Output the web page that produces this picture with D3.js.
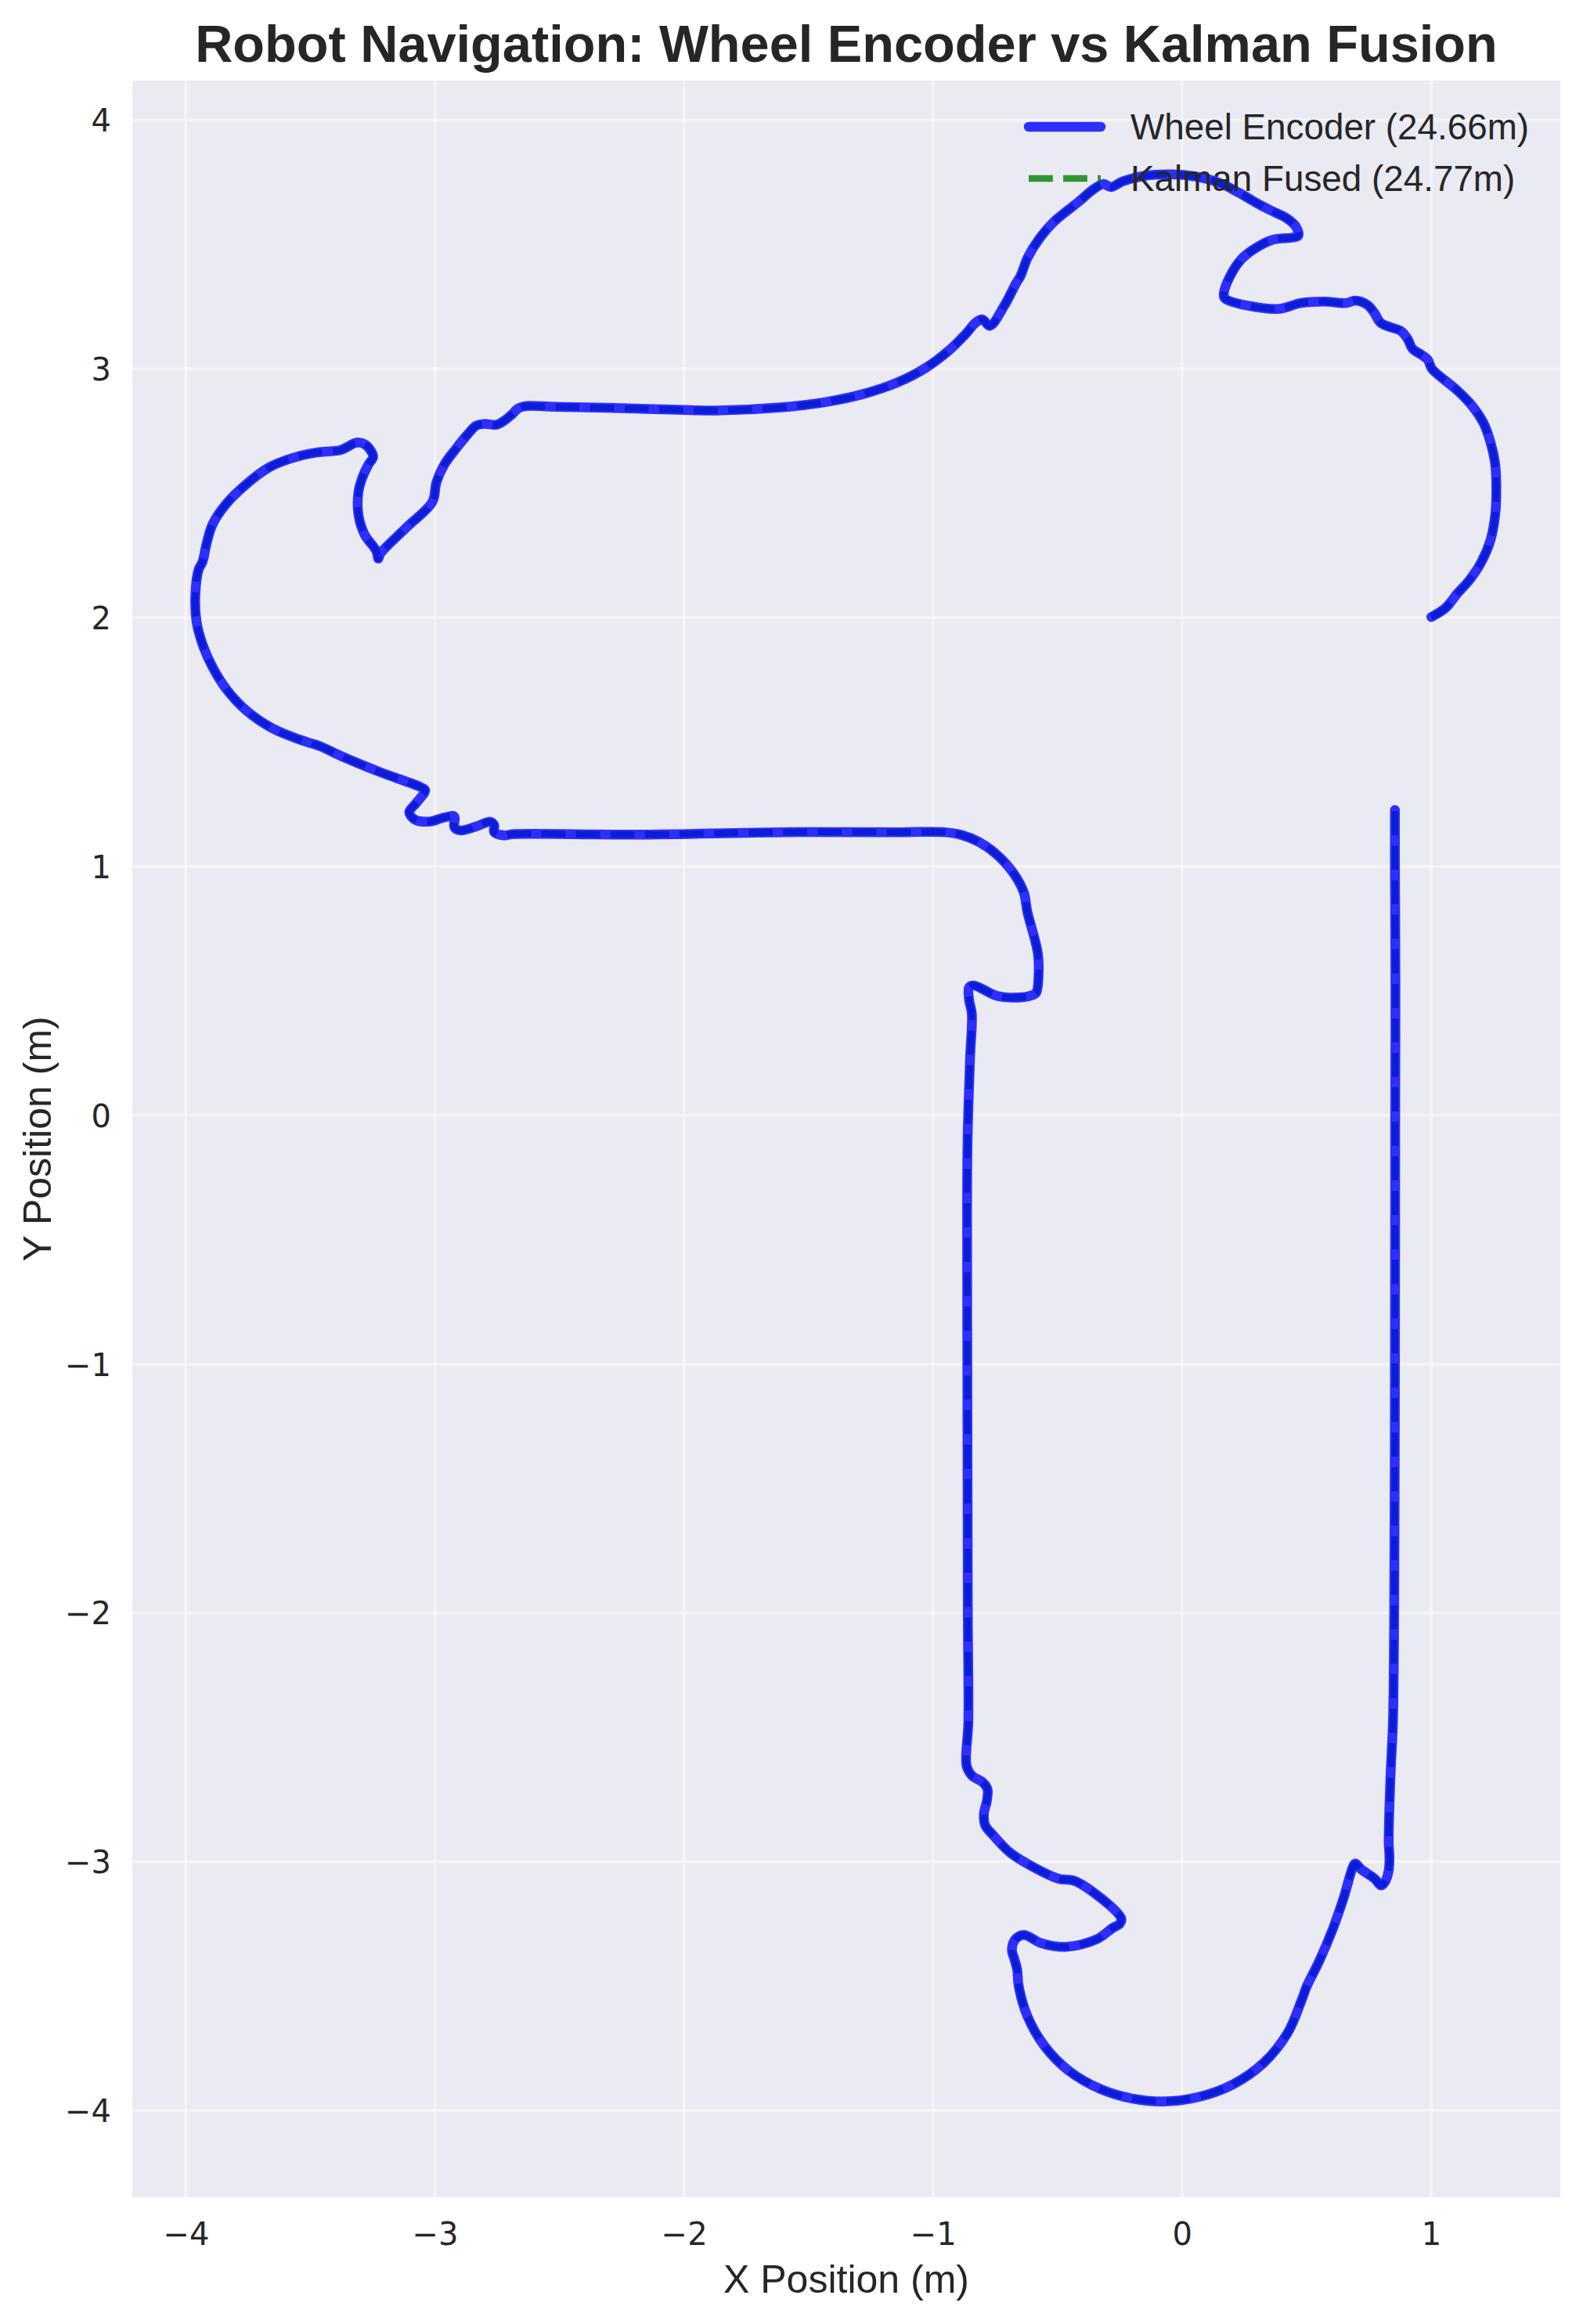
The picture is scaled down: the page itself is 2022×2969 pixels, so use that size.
<!DOCTYPE html>
<html><head><meta charset="utf-8">
<script src="https://cdn.jsdelivr.net/npm/d3@7"></script>
<style>html,body{margin:0;padding:0;background:#fff;} svg{display:block;}</style>
</head><body>
<svg id="chart" width="2022" height="2969"></svg>
<script>
// ---------------- data ----------------
const chartTitle = "Robot Navigation: Wheel Encoder vs Kalman Fusion";
const xLabel = "X Position (m)";
const yLabel = "Y Position (m)";
const xTicks = [-4, -3, -2, -1, 0, 1];
const yTicks = [-4, -3, -2, -1, 0, 1, 2, 3, 4];
const seriesNames = ["Wheel Encoder (24.66m)", "Kalman Fused (24.77m)"];
const xDomain = [-4.215, 1.519];
const yDomain = [-4.349, 4.160];

// Wheel encoder trajectory (x, y in metres)
const encoderX = [1.001,1.058,1.106,1.153,1.201,1.239,1.258,1.262,1.258,1.239,1.211,1.163,1.106,1.020,1.001,0.988,0.963,0.925,0.906,0.877,0.839,0.797,0.772,0.744,0.696,0.658,0.572,0.477,0.381,0.172,0.168,0.191,0.238,0.296,0.362,0.448,0.467,0.458,0.420,0.353,0.296,0.229,0.153,0.057,-0.038,-0.153,-0.238,-0.286,-0.315,-0.353,-0.419,-0.515,-0.572,-0.620,-0.648,-0.667,-0.715,-0.772,-0.801,-0.829,-0.868,-0.934,-1.030,-1.144,-1.277,-1.430,-1.602,
-1.872,-2.192,-2.513,-2.642,-2.666,-2.690,-2.722,-2.754,-2.802,-2.834,-2.866,-2.914,-2.962,-2.994,-3.010,-3.115,-3.219,-3.227,-3.235,-3.283,-3.307,-3.307,-3.291,-3.267,-3.248,-3.259,-3.283,-3.315,-3.355,-3.379,-3.476,-3.572,-3.668,-3.764,-3.836,-3.893,-3.917,-3.933,-3.949,-3.962,-3.957,-3.933,-3.893,-3.836,-3.756,-3.652,-3.540,-3.500,-3.460,-3.363,-3.219,-3.059,-3.039,-3.075,-3.103,-3.083,-3.026,-2.962,-2.922,-2.922,-2.898,-2.834,-2.778,-2.762,-2.762,-2.722,-2.690,-2.192,-1.602,
-1.123,-0.955,-0.886,-0.816,-0.746,-0.676,-0.635,-0.621,-0.579,-0.576,-0.586,-0.607,-0.676,-0.746,-0.837,-0.855,-0.855,-0.844,-0.851,-0.861,-0.863,-0.862,-0.860,-0.858,
-0.865,-0.844,-0.799,-0.781,-0.784,-0.795,-0.791,-0.760,-0.690,-0.593,-0.495,-0.425,-0.244,-0.251,-0.279,-0.342,-0.467,-0.565,-0.635,-0.669,-0.683,-0.674,-0.662,-0.656,-0.621,-0.551,-0.453,-0.328,-0.202,-0.077,0.063,0.202,0.328,0.425,0.481,0.502,0.551,0.607,0.649,0.690,0.697,0.718,0.774,0.799,0.816,0.830,0.833,0.830,0.837,0.847,
0.852,0.855,0.856,0.857,0.855,0.855];
const encoderY = [2.003,2.039,2.098,2.150,2.222,2.313,2.417,2.508,2.613,2.704,2.782,2.854,2.913,2.984,3.004,3.036,3.056,3.082,3.121,3.154,3.167,3.186,3.226,3.258,3.275,3.265,3.271,3.265,3.241,3.284,3.304,3.369,3.441,3.486,3.519,3.529,3.536,3.571,3.606,3.639,3.669,3.708,3.747,3.773,3.782,3.776,3.754,3.731,3.744,3.724,3.669,3.591,3.525,3.447,3.375,3.343,3.252,3.173,3.199,3.186,3.141,3.076,3.004,2.945,2.900,2.867,2.846,
2.833,2.841,2.848,2.850,2.841,2.818,2.792,2.776,2.779,2.772,2.740,2.681,2.616,2.544,2.466,2.362,2.258,2.238,2.268,2.336,2.414,2.505,2.564,2.616,2.646,2.674,2.698,2.704,2.685,2.674,2.664,2.642,2.603,2.531,2.460,2.375,2.297,2.225,2.193,2.089,1.984,1.893,1.802,1.711,1.626,1.555,1.509,1.496,1.483,1.438,1.379,1.320,1.307,1.255,1.219,1.190,1.180,1.197,1.201,1.158,1.145,1.161,1.180,1.167,1.138,1.125,1.130,1.128,1.138,
1.138,1.138,1.127,1.099,1.050,0.972,0.895,0.818,0.652,0.564,0.492,0.481,0.473,0.481,0.522,0.514,0.464,0.409,0.232,-0.099,-0.396,-1.000,-2.000,-2.439,
-2.615,-2.654,-2.682,-2.709,-2.759,-2.803,-2.853,-2.892,-2.964,-3.024,-3.069,-3.080,-3.229,-3.251,-3.267,-3.312,-3.343,-3.328,-3.295,-3.312,-3.356,-3.389,-3.433,-3.499,-3.621,-3.743,-3.842,-3.914,-3.952,-3.964,-3.947,-3.897,-3.809,-3.687,-3.555,-3.499,-3.400,-3.267,-3.146,-3.013,-3.008,-3.030,-3.069,-3.096,-3.080,-3.035,-2.980,-2.925,-2.660,-2.439,
-2.000,-1.000,0.000,0.500,1.000,1.227];

// Kalman fused trajectory: on the picture it lies exactly on the encoder track
const kalmanX = encoderX;
const kalmanY = encoderY;

// ---------------- drawing ----------------
const W = 2022, H = 2969;
const plot = {left: 169, top: 102.7, right: 1993, bottom: 2807};
const textColor = "#262626";
const sans = "'Liberation Sans', Arial, sans-serif";
const tickFont = "'DejaVu Sans', sans-serif";

const svg = d3.select("#chart");
svg.append("rect").attr("width", W).attr("height", H).attr("fill", "#ffffff");

const x = d3.scaleLinear().domain(xDomain).range([plot.left, plot.right]);
const y = d3.scaleLinear().domain(yDomain).range([plot.bottom, plot.top]);

svg.append("rect")
  .attr("x", plot.left).attr("y", plot.top)
  .attr("width", plot.right - plot.left).attr("height", plot.bottom - plot.top)
  .attr("fill", "#eaeaf2");

// grid
const grid = svg.append("g").attr("stroke", "#ffffff").attr("stroke-opacity", 0.45).attr("stroke-width", 4);
grid.selectAll(".gx").data(xTicks).enter().append("line")
  .attr("x1", d => x(d)).attr("x2", d => x(d))
  .attr("y1", plot.top).attr("y2", plot.bottom);
grid.selectAll(".gy").data(yTicks).enter().append("line")
  .attr("y1", d => y(d)).attr("y2", d => y(d))
  .attr("x1", plot.left).attr("x2", plot.right);

// axes via d3 axis generators (no domain line, no tick marks)
const fmt = d => (d < 0 ? "\u2212" + Math.abs(d) : String(d));
const xAxis = svg.append("g").attr("transform", `translate(0,${plot.bottom})`)
  .call(d3.axisBottom(x).tickValues(xTicks).tickFormat(fmt).tickSize(0).tickPadding(0));
xAxis.select(".domain").remove();
xAxis.selectAll("text").attr("dy", null).attr("y", 61)
  .attr("font-family", tickFont).attr("font-size", 40).attr("fill", textColor);

const yAxis = svg.append("g").attr("transform", `translate(${plot.left},0)`)
  .call(d3.axisLeft(y).tickValues(yTicks).tickFormat(fmt).tickSize(0).tickPadding(0));
yAxis.select(".domain").remove();
yAxis.selectAll("text").attr("x", -27).attr("dy", "0.36em")
  .attr("font-family", tickFont).attr("font-size", 40).attr("fill", textColor);

// axis labels
svg.append("text").attr("x", (plot.left + plot.right) / 2).attr("y", 2929)
  .attr("text-anchor", "middle").attr("font-family", sans).attr("font-size", 50)
  .attr("fill", textColor).text(xLabel);
svg.append("text")
  .attr("transform", `translate(65,${(plot.top + plot.bottom) / 2}) rotate(-90)`)
  .attr("text-anchor", "middle").attr("font-family", sans).attr("font-size", 50)
  .attr("fill", textColor).text(yLabel);

// title
svg.append("text").attr("x", (plot.left + plot.right) / 2).attr("y", 79)
  .attr("text-anchor", "middle").attr("font-family", sans).attr("font-weight", "bold")
  .attr("font-size", 66.7).attr("fill", textColor).text(chartTitle);

// lines
const clip = svg.append("clipPath").attr("id", "plotclip").append("rect")
  .attr("x", plot.left).attr("y", plot.top)
  .attr("width", plot.right - plot.left).attr("height", plot.bottom - plot.top);

const line = d3.line().x(d => x(d[0])).y(d => y(d[1])).curve(d3.curveCatmullRom.alpha(0.5));
const encoderPts = encoderX.map((v, i) => [v, encoderY[i]]);
const kalmanPts = kalmanX.map((v, i) => [v, kalmanY[i]]);

const lines = svg.append("g").attr("clip-path", "url(#plotclip)");
lines.append("path").datum(kalmanPts).attr("d", line)
  .attr("fill", "none").attr("stroke", "rgb(0,128,0)").attr("stroke-opacity", 0.8)
  .attr("stroke-width", 8.33).attr("stroke-dasharray", "30.8 13.3")
  .attr("stroke-linejoin", "round").attr("stroke-linecap", "butt");
lines.append("path").datum(encoderPts).attr("d", line)
  .attr("fill", "none").attr("stroke", "rgb(0,0,255)").attr("stroke-opacity", 0.8)
  .attr("stroke-width", 12.5)
  .attr("stroke-linejoin", "round").attr("stroke-linecap", "round");

// legend
const legend = svg.append("g");
const legendRows = [
  {name: seriesNames[0], color: "rgb(0,0,255)", width: 12.5, dash: null, cap: "round", y: 162},
  {name: seriesNames[1], color: "rgb(0,128,0)", width: 8.33, dash: "30.8 13.3", cap: "butt", y: 228}
];
legendRows.forEach(r => {
  legend.append("line").attr("x1", 1314).attr("x2", 1406).attr("y1", r.y).attr("y2", r.y)
    .attr("stroke", r.color).attr("stroke-opacity", 0.8).attr("stroke-width", r.width)
    .attr("stroke-linecap", r.cap).attr("stroke-dasharray", r.dash);
  legend.append("text").attr("x", 1444).attr("y", r.y + 16)
    .attr("font-family", sans).attr("font-size", 45.8).attr("fill", textColor).text(r.name);
});
</script>
</body></html>
